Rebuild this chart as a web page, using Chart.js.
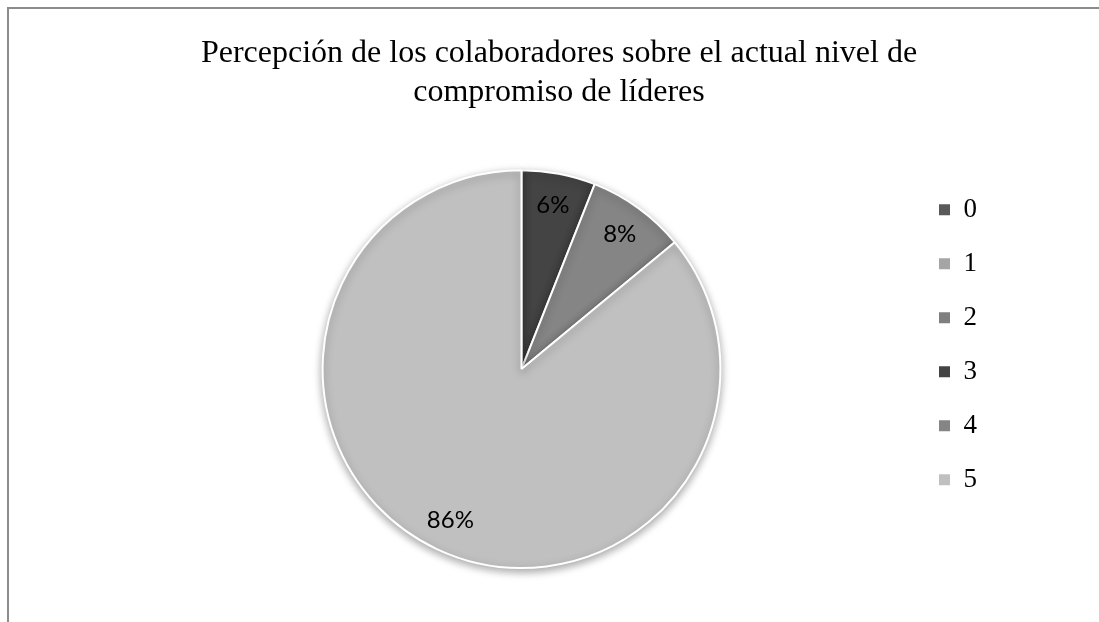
<!DOCTYPE html>
<html>
<head>
<meta charset="utf-8">
<script src="https://cdn.jsdelivr.net/npm/chart.js@4.4.0/dist/chart.umd.min.js"></script>
<style>
    html, body { margin: 0; padding: 0; background: #fff; }
    #wrap { position: relative; width: 1099px; height: 622px; overflow: hidden; }
    #frame { position: absolute; left: 7px; top: 7px; width: 1200px; height: 700px;
        border-top: 2px solid #8c8c8c; border-left: 2px solid #8c8c8c; }
    #myChart { position: absolute; left: 0; top: 0; }
</style>
</head>
<body>
<div id="wrap">
    <div id="frame"></div>
    <canvas id="myChart" width="1099" height="622"></canvas>
</div>
<script>
// categories and values (percent)
const categories = ['0', '1', '2', '3', '4', '5'];
const percents = [0, 0, 0, 6, 8, 86];
const sliceColors = ['#595959', '#a5a5a5', '#7f7f7f', '#444444', '#858585', '#c0c0c0'];
const chartTitle = ['Percepción de los colaboradores sobre el actual nivel de', 'compromiso de líderes'];

// soft shadow under the pie
const shadowPlugin = {
    id: 'pieShadow',
    beforeDatasetsDraw(chart) {
        const ctx = chart.ctx;
        ctx.save();
        ctx.shadowColor = 'rgba(0,0,0,0.35)';
        ctx.shadowBlur = 8;
        ctx.shadowOffsetY = 3;
    },
    afterDatasetsDraw(chart) {
        chart.ctx.restore();
    }
};

// percentage labels inside the slices
const labelPlugin = {
    id: 'sliceLabels',
    afterDatasetsDraw(chart) {
        const ctx = chart.ctx;
        const meta = chart.getDatasetMeta(0);
        ctx.save();
        ctx.font = '24px Lato';
        ctx.fillStyle = '#000';
        ctx.textAlign = 'center';
        ctx.textBaseline = 'middle';
        meta.data.forEach((arc, i) => {
            const v = percents[i];
            if (!v) return;
            const mid = (arc.startAngle + arc.endAngle) / 2;
            const r = arc.outerRadius * 0.84;
            ctx.fillText(v + '%', arc.x + Math.cos(mid) * r, arc.y + Math.sin(mid) * r);
        });
        ctx.restore();
    }
};

const ctx = document.getElementById('myChart').getContext('2d');
const defaultLabels = Chart.controllers.pie.overrides.plugins.legend.labels.generateLabels;

const myChart = new Chart(ctx, {
    type: 'pie',
    data: {
        labels: categories,
        datasets: [{
            data: percents,
            backgroundColor: sliceColors,
            borderColor: '#ffffff',
            borderWidth: 2
        }]
    },
    options: {
        responsive: false,
        animation: false,
        layout: {
            padding: { top: 14, bottom: 53, left: 131, right: 112 }
        },
        plugins: {
            title: {
                display: true,
                text: chartTitle,
                color: '#000',
                font: { family: '"Liberation Serif"', size: 32, weight: 'normal', lineHeight: 1.19 },
                padding: { top: 21, bottom: 58 }
            },
            legend: {
                position: 'right',
                align: 'start',
                fullSize: false,
                labels: {
                    color: '#000',
                    font: { family: '"Liberation Serif"', size: 27 },
                    boxWidth: 11,
                    boxHeight: 11,
                    padding: 27,
                    generateLabels(chart) {
                        return defaultLabels(chart).map(item => {
                            item.lineWidth = 0;
                            item.strokeStyle = item.fillStyle;
                            return item;
                        });
                    }
                }
            },
            tooltip: { enabled: false }
        }
    },
    plugins: [shadowPlugin, labelPlugin]
});
</script>
</body>
</html>
